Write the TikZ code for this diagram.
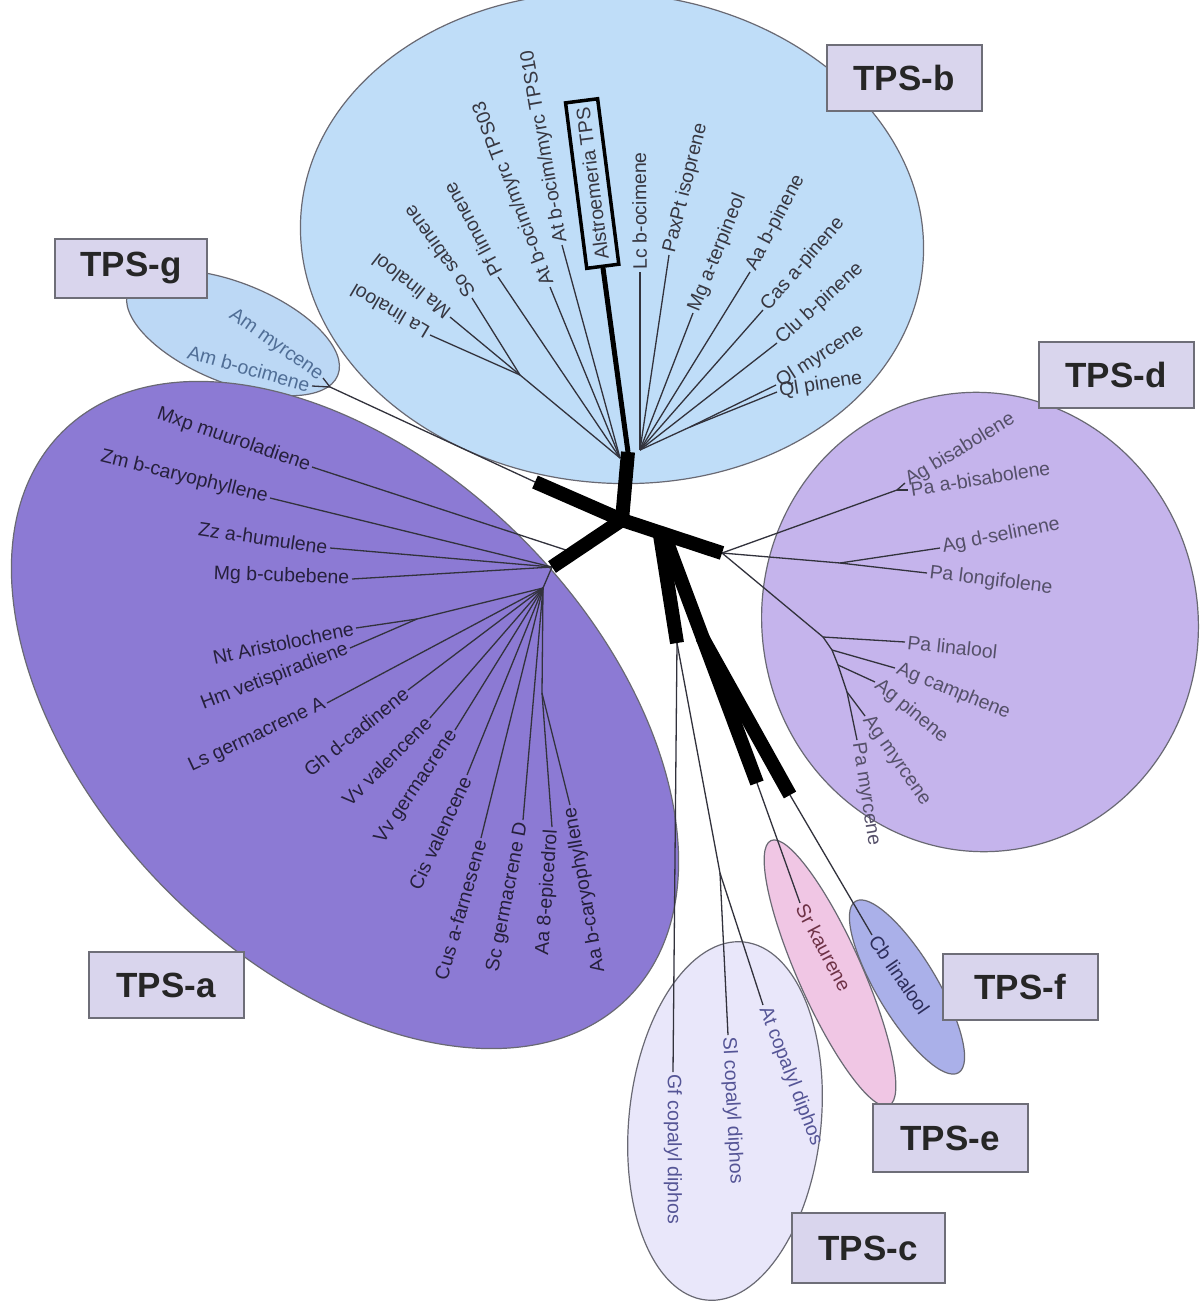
\documentclass[tikz,border=0pt]{standalone}
\usepackage{fontspec}
\setmainfont{Liberation Sans}
\definecolor{cladeB}{RGB}{191,221,248}
\definecolor{cladeG}{RGB}{188,216,245}
\definecolor{cladeA}{RGB}{140,122,212}
\definecolor{cladeD}{RGB}{197,180,236}
\definecolor{cladeC}{RGB}{233,231,250}
\definecolor{cladeE}{RGB}{240,198,228}
\definecolor{cladeF}{RGB}{170,176,233}
\definecolor{rimgray}{RGB}{105,105,115}
\definecolor{boxfill}{RGB}{217,213,237}
\definecolor{boxrim}{RGB}{110,110,120}
\definecolor{twiggray}{RGB}{50,50,60}
\definecolor{textB}{RGB}{55,55,65}
\definecolor{textG}{RGB}{80,110,150}
\definecolor{textA}{RGB}{38,32,60}
\definecolor{textD}{RGB}{85,80,105}
\definecolor{textC}{RGB}{85,85,150}
\definecolor{textE}{RGB}{110,50,70}
\definecolor{textF}{RGB}{45,45,90}

\begin{document}
\begin{tikzpicture}[
    x=1pt, y=-1pt,
    leaf/.style={font=\fontsize{19.5}{22}\selectfont, inner sep=2.5pt},
    twig/.style={draw=twiggray, line width=1.3pt},
    stem/.style={draw=black, line width=14pt},
    midstem/.style={draw=black, line width=5pt},
    clade/.style={draw=rimgray, line width=1.2pt},
    tpsbox/.style={
        rectangle, draw=boxrim, line width=2pt, fill=boxfill,
        minimum width=155pt, minimum height=66pt,
        font=\bfseries\fontsize{35}{40}\selectfont, text=black!85
    },
    alsbox/.style={leaf, draw=black, line width=3.5pt, inner xsep=7pt, inner ysep=9pt}
]
    \fill[white] (0,0) rectangle (1200,1306);
    \useasboundingbox (0,0) rectangle (1200,1306);

    % --- CLADE ELLIPSES ---
    \filldraw[clade, fill=cladeB, rotate around={-5:(612,238)}] (612,238) ellipse [x radius=312, y radius=245];
    \filldraw[clade, fill=cladeG, rotate around={-22:(233,333)}] (233,333) ellipse [x radius=113, y radius=50];
    \filldraw[clade, fill=cladeA, rotate around={-45:(345,715)}] (345,715) ellipse [x radius=400, y radius=250];
    \filldraw[clade, fill=cladeD, rotate around={10:(980,622)}] (980,622) ellipse [x radius=218, y radius=230];
    \filldraw[clade, fill=cladeC, rotate around={-6:(725,1121)}] (725,1121) ellipse [x radius=96, y radius=180];
    \filldraw[clade, fill=cladeE, rotate around={-66:(830,973)}] (830,973) ellipse [x radius=145, y radius=32];
    \filldraw[clade, fill=cladeF, rotate around={-59:(907,987)}] (907,987) ellipse [x radius=100, y radius=30];

    % --- TPS LABELS ---
    \node[tpsbox] (tpsb) at (904,78) {TPS-b};
    \node[tpsbox, minimum width=152pt, minimum height=59pt] (tpsg) at (131,268) {TPS-g};
    \node[tpsbox] (tpsd) at (1116,375) {TPS-d};
    \node[tpsbox] (tpsa) at (166,985) {TPS-a};
    \node[tpsbox] (tpsf) at (1020,987) {TPS-f};
    \node[tpsbox, minimum height=68pt] (tpse) at (950,1138) {TPS-e};
    \node[tpsbox, minimum width=153pt, minimum height=70pt] (tpsc) at (868,1248) {TPS-c};

    % --- INNER NODES ---
    \coordinate (C) at (622,520);
    \coordinate (bT) at (628,452);
    \coordinate (bA) at (520,375);
    \coordinate (bL) at (620,458);
    \coordinate (bR) at (640,450);
    \coordinate (bQ) at (690,427);
    \coordinate (gT) at (535,482);
    \coordinate (g1) at (330,387);
    \coordinate (aT) at (552,567);
    \coordinate (aM) at (572,552);
    \coordinate (a1) at (543,588);
    \coordinate (aNH) at (417,619);
    \coordinate (aA) at (542,693);
    \coordinate (dT) at (722,553);
    \coordinate (dB) at (897,490);
    \coordinate (dS) at (840,563);
    \coordinate (d1) at (823,637);
    \coordinate (d2) at (832,650);
    \coordinate (d3) at (838,665);
    \coordinate (d4) at (847,692);
    \coordinate (cS) at (660,535);
    \coordinate (cT) at (677,643);
    \coordinate (c1) at (720,873);
    \coordinate (eS) at (665,537);
    \coordinate (eT) at (757,783);
    \coordinate (fS) at (702,637);
    \coordinate (fT) at (790,795);

    % --- TPS-b LEAVES ---
    \begin{scope}[text=textB]
    \node[leaf, anchor=west, rotate=149.5] (lalin) at (430,335) {La linalool};
    \node[leaf, anchor=west, rotate=142] (malin) at (450,317) {Ma linalool};
    \node[leaf, anchor=west, rotate=125.5] (sosab) at (472,298) {So sabinene};
    \node[leaf, anchor=west, rotate=118] (pflim) at (498,277) {Pf limonene};
    \node[leaf, anchor=west, rotate=111] (attps3) at (550,287) {At b-ocim/myrc TPS03};
    \node[leaf, anchor=west, rotate=100] (attps10) at (562,245) {At b-ocim/myrc TPS10};
    \node[alsbox, anchor=west, rotate=97.3] (alstro) at (603,268) {Alstroemeria TPS};
    \node[leaf, anchor=west, rotate=90.5] (lcoci) at (640,272) {Lc b-ocimene};
    \node[leaf, anchor=west, rotate=76] (paxiso) at (669,255) {PaxPt isoprene};
    \node[leaf, anchor=west, rotate=68] (mgter) at (693,313) {Mg a-terpineol};
    \node[leaf, anchor=west, rotate=62.5] (aapin) at (750,272) {Aa b-pinene};
    \node[leaf, anchor=west, rotate=49] (caspin) at (763,310) {Cas a-pinene};
    \node[leaf, anchor=west, rotate=42.5] (clupin) at (777,343) {Clu b-pinene};
    \node[leaf, anchor=west, rotate=33] (qlmyr) at (776,385) {Ql myrcene};
    \node[leaf, anchor=west, rotate=9] (qlpin) at (777,392) {Ql pinene};
    \end{scope}

    % --- TPS-g LEAVES ---
    \node[leaf, text=textG, anchor=east, rotate=-35] (ammyr) at (323,378) {Am myrcene};
    \node[leaf, text=textG, anchor=east, rotate=-15.5] (amoci) at (312,386) {Am b-ocimene};

    % --- TPS-a LEAVES ---
    \begin{scope}[text=textA]
    \node[leaf, anchor=east, rotate=-19] (mxpmuu) at (312,467) {Mxp muuroladiene};
    \node[leaf, anchor=east, rotate=-13.7] (zmcar) at (270,498) {Zm b-caryophyllene};
    \node[leaf, anchor=east, rotate=-8.4] (zzhum) at (330,548) {Zz a-humulene};
    \node[leaf, anchor=east, rotate=-2] (mgcub) at (352,579) {Mg b-cubebene};
    \node[leaf, anchor=east, rotate=11.7] (ntari) at (356,628) {Nt Aristolochene};
    \node[leaf, anchor=east, rotate=21] (hmvet) at (350,648) {Hm vetispiradiene};
    \node[leaf, anchor=east, rotate=25] (lsger) at (327,703) {Ls germacrene A};
    \node[leaf, anchor=east, rotate=39] (ghcad) at (408,690) {Gh d-cadinene};
    \node[leaf, anchor=east, rotate=45] (vvval) at (430,718) {Vv valencene};
    \node[leaf, anchor=east, rotate=56] (vvger) at (455,730) {Vv germacrene};
    \node[leaf, anchor=east, rotate=65] (cisval) at (467,775) {Cis valencene};
    \node[leaf, anchor=east, rotate=74] (cusfar) at (481,838) {Cus a-farnesene};
    \node[leaf, anchor=east, rotate=79] (scger) at (523,820) {Sc germacrene D};
    \node[leaf, anchor=east, rotate=86] (aaepi) at (552,827) {Aa 8-epicedrol};
    \node[leaf, anchor=east, rotate=100] (aacar) at (570,805) {Aa b-caryophyllene};
    \end{scope}

    % --- TPS-d LEAVES ---
    \begin{scope}[text=textD]
    \node[leaf, anchor=west, rotate=31] (agbis) at (905,483) {Ag bisabolene};
    \node[leaf, anchor=west, rotate=9] (pabis) at (908,490) {Pa a-bisabolene};
    \node[leaf, anchor=west, rotate=11] (agsel) at (940,548) {Ag d-selinene};
    \node[leaf, anchor=west, rotate=-7] (palon) at (927,573) {Pa longifolene};
    \node[leaf, anchor=west, rotate=-6] (palin) at (905,642) {Pa linalool};
    \node[leaf, anchor=west, rotate=-22] (agcam) at (895,668) {Ag camphene};
    \node[leaf, anchor=west, rotate=-39] (agpin) at (875,682) {Ag pinene};
    \node[leaf, anchor=west, rotate=-55] (agmyr) at (865,716) {Ag myrcene};
    \node[leaf, anchor=west, rotate=-81] (pamyr) at (857,740) {Pa myrcene};
    \end{scope}

    % --- TPS-c, TPS-e, TPS-f LEAVES ---
    \node[leaf, text=textC, anchor=west, rotate=-90] (gfcop) at (673,1072) {Gf copalyl diphos};
    \node[leaf, text=textC, anchor=west, rotate=-87] (slcop) at (728,1035) {Sl copalyl diphos};
    \node[leaf, text=textC, anchor=west, rotate=-69] (atcop) at (763,1005) {At copalyl diphos};
    \node[leaf, text=textE, anchor=west, rotate=-62] (srkau) at (800,903) {Sr kaurene};
    \node[leaf, text=textF, anchor=west, rotate=-55.5] (cblin) at (872,935) {Cb linalool};

    % --- TWIGS ---
    \draw[twig] (bL) -- (bA);
    \draw[twig] (bA) -- (lalin.west);
    \draw[twig] (bA) -- (malin.west);
    \draw[twig] (bA) -- (sosab.west);
    \draw[twig] (bL) -- (pflim.west);
    \draw[twig] (bL) -- (attps3.west);
    \draw[twig] (bL) -- (attps10.west);
    \draw[twig] (bR) -- (lcoci.west);
    \draw[twig] (bR) -- (paxiso.west);
    \draw[twig] (bR) -- (mgter.west);
    \draw[twig] (bR) -- (aapin.west);
    \draw[twig] (bR) -- (caspin.west);
    \draw[twig] (bR) -- (clupin.west);
    \draw[twig] (bR) -- (bQ);
    \draw[twig] (bQ) -- (qlmyr.west);
    \draw[twig] (bQ) -- (qlpin.west);

    \draw[twig] (gT) -- (g1);
    \draw[twig] (g1) -- (ammyr.east);
    \draw[twig] (g1) -- (amoci.east);

    \draw[twig] (aM) -- (mxpmuu.east);
    \draw[twig] (aT) -- (zmcar.east);
    \draw[twig] (aT) -- (zzhum.east);
    \draw[twig] (aT) -- (mgcub.east);
    \draw[twig] (aT) -- (a1);
    \draw[twig] (a1) -- (aNH);
    \draw[twig] (aNH) -- (ntari.east);
    \draw[twig] (aNH) -- (hmvet.east);
    \draw[twig] (a1) -- (lsger.east);
    \draw[twig] (a1) -- (ghcad.east);
    \draw[twig] (a1) -- (vvval.east);
    \draw[twig] (a1) -- (vvger.east);
    \draw[twig] (a1) -- (cisval.east);
    \draw[twig] (a1) -- (cusfar.east);
    \draw[twig] (a1) -- (scger.east);
    \draw[twig] (a1) -- (aA);
    \draw[twig] (aA) -- (aaepi.east);
    \draw[twig] (aA) -- (aacar.east);

    \draw[twig] (dT) -- (dB);
    \draw[twig] (dB) -- (agbis.west);
    \draw[twig] (dB) -- (pabis.west);
    \draw[twig] (dT) -- (dS);
    \draw[twig] (dS) -- (agsel.west);
    \draw[twig] (dS) -- (palon.west);
    \draw[twig] (dT) -- (d1);
    \draw[twig] (d1) -- (palin.west);
    \draw[twig] (d1) -- (d2);
    \draw[twig] (d2) -- (agcam.west);
    \draw[twig] (d2) -- (d3);
    \draw[twig] (d3) -- (agpin.west);
    \draw[twig] (d3) -- (d4);
    \draw[twig] (d4) -- (agmyr.west);
    \draw[twig] (d4) -- (pamyr.west);

    \draw[twig] (cT) -- (gfcop.west);
    \draw[twig] (cT) -- (c1);
    \draw[twig] (c1) -- (slcop.west);
    \draw[twig] (c1) -- (atcop.west);
    \draw[twig] (eT) -- (srkau.west);
    \draw[twig] (fT) -- (cblin.west);

    % --- THICK BRANCHES ---
    \draw[midstem] (bT) -- (alstro.west);
    \draw[stem] (C) -- (bT);
    \draw[stem] (C) -- (gT);
    \draw[stem] (C) -- (aT);
    \draw[stem] (C) -- (dT);
    \draw[stem] (cS) -- (cT);
    \draw[stem] (eS) -- (eT);
    \draw[stem] (fS) -- (fT);
    \fill (C) circle (7pt);

\end{tikzpicture}
\end{document}
